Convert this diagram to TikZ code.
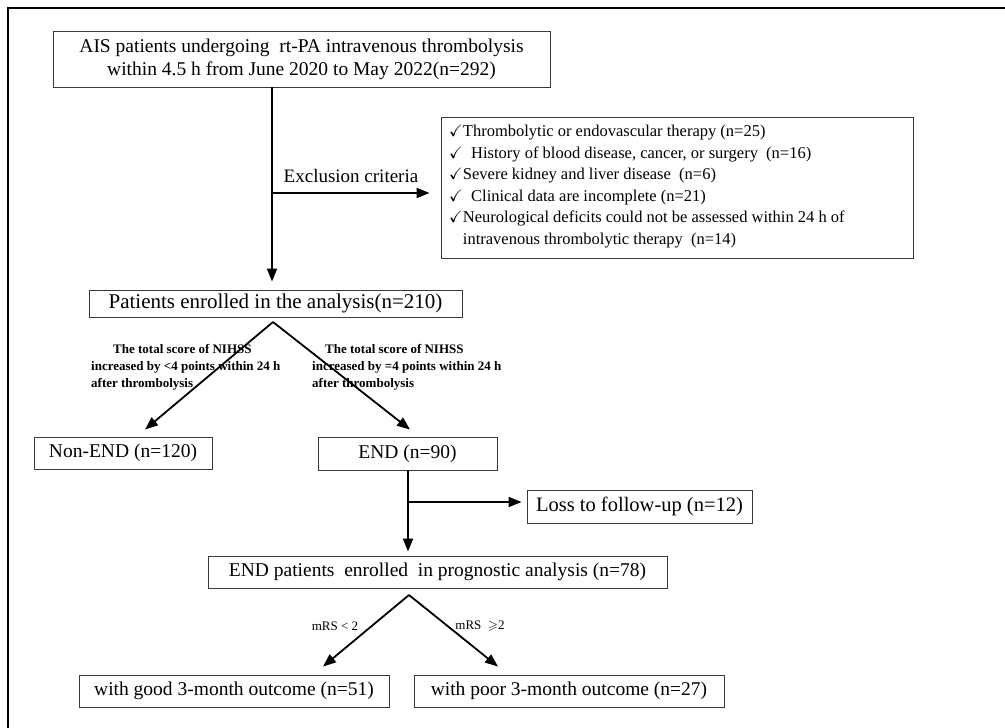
\documentclass[tikz,border=0pt]{standalone}
\usepackage{amssymb}
\usepackage{fontspec}
\setmainfont{Liberation Serif}
\usetikzlibrary{arrows.meta, positioning, calc}
\definecolor{boxline}{HTML}{3A3A3A}

\begin{document}
\begin{tikzpicture}[x=1pt, y=-1pt,
      stage/.style={draw=boxline, line width=0.9pt, inner sep=0pt,
        font=\fontsize{19.5}{23}\selectfont},
      flow/.style={line width=1.8pt, -{Triangle[length=13pt, width=10pt]}},
      trunk/.style={line width=1.8pt},
      cond/.style={align=left, inner sep=0pt, anchor=north west,
        font=\bfseries\fontsize{13}{17}\selectfont},
      mrs/.style={inner sep=0pt, font=\fontsize{13}{15}\selectfont}
    ]
      \useasboundingbox (0,0) rectangle (1005,728);
      \draw[line width=2.6pt] (8,728) -- (8,8) -- (1005,8);
      % boxes
      \node[stage, minimum width=497, minimum height=56, align=center] (enrol) at (301.5,59)
        {AIS patients undergoing\ \ rt-PA intravenous thrombolysis\\within 4.5 h from June 2020 to May 2022(n=292)};
      \node[stage, minimum width=472, minimum height=141] (excl) at (677,187.5) {};
      \node[align=left, inner sep=0pt, anchor=north west,
        font=\fontsize{16.5}{21.5}\selectfont] (excltext) at (449,125)
        {$\checkmark$Thrombolytic or endovascular therapy (n=25)\\
         $\checkmark$\ \ History of blood disease, cancer, or surgery\ \ (n=16)\\
         $\checkmark$Severe kidney and liver disease\ \ (n=6)\\
         $\checkmark$\ \ Clinical data are incomplete (n=21)\\
         $\checkmark$Neurological deficits could not be assessed within 24 h of\\
         \phantom{$\checkmark$}intravenous thrombolytic therapy\ \ (n=14)};
      \node[stage, minimum width=373, minimum height=27, font=\fontsize{21}{24}\selectfont] (pat) at (275.5,303.5)
        {Patients enrolled in the analysis(n=210)};
      \node[stage, minimum width=178, minimum height=32] (nonend) at (123,453) {Non-END (n=120)};
      \node[stage, minimum width=179, minimum height=33] (endg) at (407.5,453.5) {END (n=90)};
      \node[stage, minimum width=225, minimum height=33, font=\fontsize{20.5}{23}\selectfont] (loss) at (639.5,506.5)
        {Loss to follow-up (n=12)};
      \node[stage, minimum width=459, minimum height=32] (prog) at (437.5,572)
        {END patients\ \ enrolled\ \ in prognostic analysis (n=78)};
      \node[stage, minimum width=310, minimum height=32] (good) at (234,691) {with good 3-month outcome (n=51)};
      \node[stage, minimum width=310, minimum height=32] (poor) at (569,691) {with poor 3-month outcome (n=27)};
      % labels
      \node[inner sep=0pt, font=\fontsize{19}{22}\selectfont] (exlab) at (351,176) {Exclusion criteria};
      \node[cond] (lesslab) at (91,344)
        {\hspace*{22pt}The total score of NIHSS\\increased by <4 points within 24 h\\after thrombolysis};
      \node[cond] (morelab) at (312,344)
        {\hspace*{13pt}The total score of NIHSS\\increased by =4 points within 24 h\\after thrombolysis};
      \node[mrs] (goodlab) at (335,626) {mRS < 2};
      \node[mrs] (poorlab) at (480,626) {mRS\ \ $\geqslant$2};
      % connectors
      \coordinate (j1) at (272,193);
      \draw[trunk] (enrol.south -| j1) -- (j1);
      \draw[flow, shorten >=8pt] (j1) -- (j1 |- pat.north);
      \draw[flow, shorten >=11pt] (j1) -- (j1 -| excl.west);
      \coordinate (a1) at (273,322);
      \draw[flow] (a1) -- ($(nonend.north)+(22,-7)$);
      \draw[flow] (a1) -- ($(endg.north)+(2.5,-7)$);
      \coordinate (j2) at (408,502);
      \draw[trunk] (endg.south -| j2) -- (j2);
      \draw[flow, shorten >=4pt] (j2) -- (j2 |- prog.north);
      \draw[flow, shorten >=5pt] (j2) -- (j2 -| loss.west);
      \coordinate (a2) at (409,595);
      \draw[flow] (a2) -- ($(good.north)+(89,-8)$);
      \draw[flow] (a2) -- ($(poor.north)+(-71,-8)$);
    \end{tikzpicture}
\end{document}
